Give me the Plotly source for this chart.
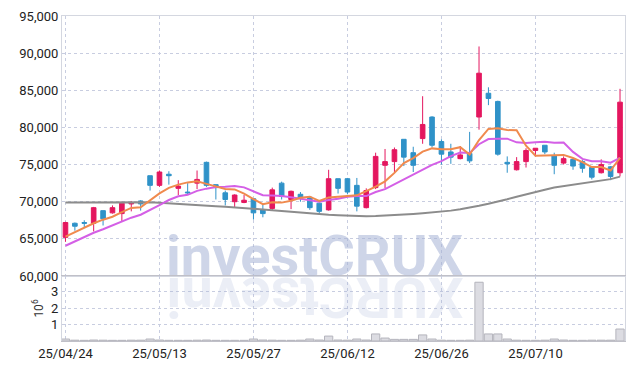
import plotly.graph_objects as go
from plotly.subplots import make_subplots

dates = ["25/04/24", "25/04/25", "25/04/28", "25/04/29", "25/04/30", "25/05/02", "25/05/07", "25/05/08", "25/05/09", "25/05/12",
         "25/05/13", "25/05/14", "25/05/15", "25/05/16", "25/05/19", "25/05/20", "25/05/21", "25/05/22", "25/05/23", "25/05/26",
         "25/05/27", "25/05/28", "25/05/29", "25/05/30", "25/06/02", "25/06/04", "25/06/05", "25/06/09", "25/06/10", "25/06/11",
         "25/06/12", "25/06/13", "25/06/16", "25/06/17", "25/06/18", "25/06/19", "25/06/20", "25/06/23", "25/06/24", "25/06/25",
         "25/06/26", "25/06/27", "25/06/30", "25/07/01", "25/07/02", "25/07/03", "25/07/04", "25/07/07", "25/07/08", "25/07/09",
         "25/07/10", "25/07/11", "25/07/14", "25/07/15", "25/07/16", "25/07/17", "25/07/18", "25/07/21", "25/07/22", "25/07/23"]

open_ = [65200, 67100, 67200, 67100, 68800, 68500, 68400, 69700, 70100, 73500,
         72200, 73700, 71800, 71300, 72500, 75300, 72300, 71200, 70000, 69900,
         70400, 68900, 69100, 72500, 70300, 71000, 70600, 69800, 68900, 73100,
         73100, 72200, 69200, 71900, 74900, 75400, 78400, 76600, 78500, 81400,
         78100, 76700, 75800, 76500, 81400, 84600, 83500, 75300, 74300, 75400,
         76900, 77600, 76200, 75200, 75700, 75400, 74600, 73900, 74700, 73900]
high = [67300, 67200, 67500, 69300, 68800, 69500, 70000, 70100, 70200, 73500,
        74200, 74100, 72900, 72500, 74200, 75400, 72300, 71500, 71000, 70900,
        70400, 69600, 71900, 72700, 71500, 71300, 70700, 69900, 74300, 73100,
        73200, 73200, 71800, 76600, 77100, 77300, 78400, 77400, 84200, 81500,
        78400, 77800, 77500, 79400, 90900, 85400, 83600, 76100, 76000, 77200,
        77200, 77600, 76600, 76100, 75700, 75600, 74700, 75700, 74800, 85200]
low = [64600, 66100, 66500, 66000, 66800, 68400, 67300, 68700, 68800, 71500,
       72000, 72300, 70900, 70900, 71700, 72000, 70300, 69500, 69200, 69800,
       67600, 67900, 68900, 70300, 69000, 70000, 68900, 68400, 68800, 71100,
       71000, 68700, 69100, 71700, 71800, 73900, 74800, 74000, 77800, 77300,
       75000, 75100, 75700, 75200, 79700, 83000, 76200, 73900, 74200, 74600,
       76100, 76400, 73700, 75000, 74300, 73900, 73000, 73800, 72900, 73400]
close = [67200, 66700, 67100, 69200, 67700, 69200, 69800, 69900, 69700, 72200,
         74000, 73500, 72100, 71200, 73000, 72200, 71900, 70300, 70900, 70200,
         68500, 68400, 71600, 70700, 71400, 70500, 69200, 68700, 73100, 71800,
         71300, 69400, 71500, 76100, 75400, 77000, 76000, 74900, 80400, 77600,
         76400, 76000, 76300, 75500, 87300, 83900, 76400, 75100, 75400, 76900,
         77200, 76700, 74900, 75800, 74800, 74500, 73300, 75000, 73400, 83400]

ma5 = [65300, 65900, 66500, 67100, 67580, 67980, 68600, 69160, 69260, 70160,
       71120, 71860, 72300, 72600, 72760, 72400, 72080, 71720, 71660, 71100,
       70360, 69660, 69920, 69880, 70120, 70520, 70680, 70100, 70580, 70660,
       70820, 70860, 71420, 72020, 72740, 73880, 75200, 75880, 76740, 77180,
       77060, 77060, 77340, 76360, 78300, 79800, 79880, 79640, 79620, 77540,
       76200, 76260, 76220, 76300, 75880, 75340, 74660, 74680, 74200, 75920]
ma10 = [64070, 64670, 65210, 65820, 66290, 66830, 67370, 67850, 68250, 68870,
        69550, 70230, 70730, 70930, 71460, 71760, 71970, 72010, 72130, 71930,
        71380, 70870, 70820, 70770, 70610, 70440, 70170, 70010, 70230, 70390,
        70670, 70770, 70760, 71300, 71700, 72350, 73030, 73650, 74380, 74960,
        75470, 76130, 76610, 76550, 77740, 78430, 78470, 78490, 77990, 77920,
        78000, 78070, 77930, 77960, 76710, 75770, 75460, 75450, 75250, 75900]
ma60 = [69900, 69900, 69950, 69950, 70000, 70000, 70000, 70000, 69980, 69940,
        69850, 69760, 69670, 69600, 69530, 69470, 69400, 69330, 69260, 69160,
        69060, 68950, 68840, 68730, 68620, 68520, 68420, 68320, 68250, 68180,
        68120, 68080, 68050, 68080, 68130, 68180, 68270, 68360, 68450, 68550,
        68650, 68800, 68990, 69200, 69460, 69730, 70000, 70340, 70680, 71020,
        71350, 71620, 71900, 72100, 72300, 72500, 72700, 72870, 73040, 73380]

volume = [0.12, 0.05, 0.04, 0.06, 0.05, 0.04, 0.04, 0.05, 0.05, 0.12,
          0.06, 0.04, 0.04, 0.04, 0.05, 0.06, 0.04, 0.04, 0.04, 0.04,
          0.12, 0.06, 0.05, 0.04, 0.04, 0.05, 0.12, 0.06, 0.30, 0.06,
          0.05, 0.12, 0.06, 0.43, 0.18, 0.10, 0.10, 0.10, 0.37, 0.12,
          0.05, 0.04, 0.04, 0.05, 3.58, 0.43, 0.43, 0.12, 0.05, 0.04,
          0.04, 0.05, 0.12, 0.06, 0.04, 0.04, 0.05, 0.05, 0.05, 0.73]
volume = [v * 1e6 for v in volume]

price_ticks = [60000, 65000, 70000, 75000, 80000, 85000, 90000, 95000]
vol_ticks = [1e6, 2e6, 3e6]
vol_tick_text = ["1", "2", "3"]
x_tick_idx = [0, 10, 20, 30, 40, 50]

RED = "#e4175f"
BLUE = "#2f92c8"
GRID = "#c8cde0"
FONT = "Roboto"

fig = make_subplots(rows=2, cols=1, shared_xaxes=True, vertical_spacing=0,
                    row_heights=[0.8, 0.2])

fig.add_trace(go.Scatter(x=dates, y=ma60, mode="lines",
                         line=dict(color="#8c8c8c", width=2), hoverinfo="skip"), row=1, col=1)
fig.add_trace(go.Scatter(x=dates, y=ma10, mode="lines",
                         line=dict(color="#d45fe6", width=2), hoverinfo="skip"), row=1, col=1)
fig.add_trace(go.Scatter(x=dates, y=ma5, mode="lines",
                         line=dict(color="#f08a4e", width=2), hoverinfo="skip"), row=1, col=1)
fig.add_trace(go.Candlestick(x=dates, open=open_, high=high, low=low, close=close,
                             increasing=dict(line=dict(color=RED, width=1), fillcolor=RED),
                             decreasing=dict(line=dict(color=BLUE, width=1), fillcolor=BLUE)),
              row=1, col=1)
fig.add_trace(go.Bar(x=dates, y=volume, marker=dict(color="#dcdce2",
                                                    line=dict(color="#b4b4bc", width=1))),
              row=2, col=1)

xr = [-0.37, 59.53]
fig.update_xaxes(type="category", range=xr, tickmode="array",
                 tickvals=[dates[i] for i in x_tick_idx],
                 ticktext=[dates[i] for i in x_tick_idx],
                 showgrid=True, gridcolor=GRID, griddash="dot", gridwidth=1,
                 showline=True, linecolor="#d4d7e0", mirror=True,
                 rangeslider=dict(visible=False), ticks="",
                 tickfont=dict(family=FONT, size=13, color="#222"))
fig.update_xaxes(showticklabels=False, row=1, col=1)
fig.update_xaxes(linecolor="#c0c0c8", row=2, col=1)

fig.update_yaxes(range=[60000, 95000], tickvals=price_ticks, tickformat=",",
                 showgrid=True, gridcolor=GRID, griddash="dot", gridwidth=1,
                 showline=True, linecolor="#d4d7e0", mirror=True, ticks="",
                 zeroline=False,
                 tickfont=dict(family=FONT, size=13, color="#222"), row=1, col=1)
fig.update_yaxes(range=[0, 3.96e6], tickvals=vol_ticks, ticktext=vol_tick_text,
                 showgrid=True, gridcolor=GRID, griddash="dot", gridwidth=1,
                 showline=True, linecolor="#d4d7e0", mirror=True, ticks="",
                 zeroline=False,
                 title=dict(text="10<sup>6</sup>", font=dict(family=FONT, size=12, color="#333"),
                            standoff=4),
                 tickfont=dict(family=FONT, size=13, color="#222"), row=2, col=1)

fig.add_annotation(text="investCRUX", xref="paper", yref="paper", x=0.449, y=0.155,
                   xanchor="center", yanchor="bottom", showarrow=False,
                   font=dict(family="Roboto", size=56, weight="bold", color="rgba(165,178,214,0.55)"))
fig.add_annotation(text="XURCtsevni", xref="paper", yref="paper", x=0.449, y=0.245,
                   xanchor="center", yanchor="top", showarrow=False, textangle=180,
                   font=dict(family="Roboto", size=56, weight="bold", color="rgba(165,178,214,0.22)"))

fig.update_layout(width=634, height=370, margin=dict(l=62, r=9, t=16, b=29),
                  showlegend=False, plot_bgcolor="white", paper_bgcolor="white",
                  bargap=0.12, hovermode=False)

fig.write_html("out.html")
